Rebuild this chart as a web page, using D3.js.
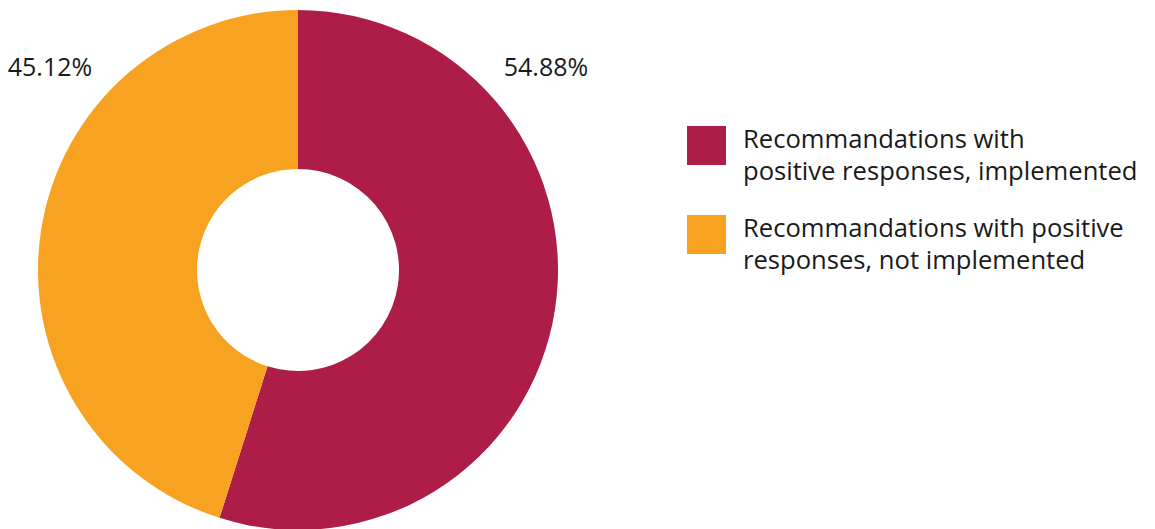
<!DOCTYPE html>
<html><head><meta charset="utf-8">
<script src="https://cdn.jsdelivr.net/npm/d3@7"></script>
<style>body{margin:0;background:#fff}svg{display:block}text{font-family:"Open Sans",sans-serif;fill:#1a1a1a}</style>
</head><body>
<svg id="c" width="1155" height="529"></svg>
<script>
const categories = ["Recommandations with positive responses, implemented", "Recommandations with positive responses, not implemented"];
const legendLines = [["Recommandations with", "positive responses, implemented"], ["Recommandations with positive", "responses, not implemented"]];
const values = [54.88, 45.12];
const valueLabels = ["54.88%", "45.12%"];
const colors = ["#AD1D47", "#F7A221"];

const svg = d3.select("#c");
const cx = 298, cy = 270, R = 260, r = 101;
const g = svg.append("g").attr("transform", `translate(${cx},${cy})`);
const pie = d3.pie().sort(null).value(d => d);
const arc = d3.arc().innerRadius(r).outerRadius(R);
const arcs = pie(values);
g.selectAll("path").data(arcs).enter().append("path")
  .attr("d", arc).attr("fill", (d, i) => colors[i]);

// percentage labels
const labelPos = [{x: 546, y: 76}, {x: 50, y: 76}];
svg.selectAll("text.pct").data(valueLabels).enter().append("text")
  .attr("class", "pct")
  .attr("x", (d, i) => labelPos[i].x).attr("y", (d, i) => labelPos[i].y)
  .attr("text-anchor", "middle").attr("font-size", 25).text(d => d);

// legend
const lg = svg.append("g");
const items = lg.selectAll("g").data(categories).enter().append("g")
  .attr("transform", (d, i) => `translate(687,${126 + i * 89})`);
items.append("rect").attr("width", 39).attr("height", 39).attr("fill", (d, i) => colors[i]);
items.each(function(d, i) {
  const t = d3.select(this).append("text").attr("font-size", 25.6);
  legendLines[i].forEach((ln, j) => {
    t.append("tspan").attr("x", 56).attr("y", 22 + j * 32).text(ln);
  });
});
</script>
</body></html>
